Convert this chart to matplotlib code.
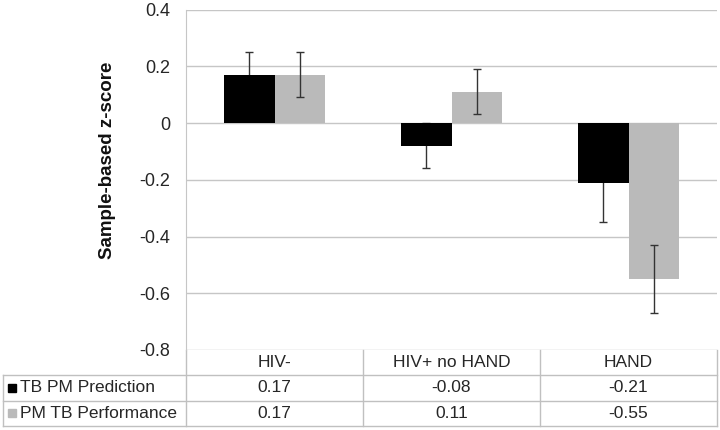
import matplotlib
matplotlib.use("Agg")
import matplotlib.pyplot as plt
from matplotlib.patches import Rectangle
from matplotlib.lines import Line2D
import numpy as np

categories = ["HIV-", "HIV+ no HAND", "HAND"]
series_names = ["TB PM Prediction", "PM TB Performance"]
prediction = [0.17, -0.08, -0.21]
performance = [0.17, 0.11, -0.55]
prediction_err = [0.08, 0.08, 0.14]
performance_err = [0.08, 0.08, 0.12]
table_pred = ["0.17", "-0.08", "-0.21"]
table_perf = ["0.17", "0.11", "-0.55"]
yticks = [0.4, 0.2, 0, -0.2, -0.4, -0.6, -0.8]
ytick_labels = ["0.4", "0.2", "0", "-0.2", "-0.4", "-0.6", "-0.8"]

plt.rcParams['font.family'] = ['Liberation Sans', 'DejaVu Sans']

W, H = 720, 430
fig = plt.figure(figsize=(W / 100, H / 100), dpi=100)
left_px, right_px, top_px, bot_px = 186, 717, 9.5, 350
ax = fig.add_axes([left_px / W, 1 - bot_px / H, (right_px - left_px) / W, (bot_px - top_px) / H])

black = "#000000"
gray = "#bababa"
grid_c = "#c6c6c6"
txt_c = "#262626"
x = np.arange(len(categories))
bw = 0.283

ax.bar(x - bw / 2, prediction, width=bw, color=black, zorder=3)
ax.bar(x + bw / 2, performance, width=bw, color=gray, zorder=3)
ax.errorbar(x - bw / 2, prediction, yerr=prediction_err, fmt='none', ecolor="#333333",
            elinewidth=1, capsize=3, capthick=1, zorder=2.5)
ax.errorbar(x + bw / 2, performance, yerr=performance_err, fmt='none', ecolor="#333333",
            elinewidth=1, capsize=3, capthick=1, zorder=4)

ax.set_xlim(-0.5, 2.5)
ax.set_ylim(-0.8, 0.4)
ax.set_yticks(yticks)
ax.set_yticklabels(ytick_labels, fontsize=13, color=txt_c)
ax.tick_params(axis='y', length=0, pad=11.5)
ax.set_xticks([])
ax.yaxis.grid(True, color=grid_c, linewidth=1, zorder=0)
for s in ["top", "right", "bottom"]:
    ax.spines[s].set_visible(False)
ax.spines["left"].set_color(grid_c)
fig.text(108 / W, 1 - 160 / H, "Sample-based z-score", rotation=90, ha='center', va='center',
         fontsize=13.5, fontweight='bold', color="#111111")

# Data table below the axes
ax_h_px = bot_px - top_px
cat_px = (right_px - left_px) / 3
row_h = 25.3 / ax_h_px
tr = ax.get_xaxis_transform()
x_left = -0.5 - (left_px - 3) / cat_px
lc = "#c0c0c0"

def hline(y, x0, x1):
    ax.add_line(Line2D([x0, x1], [y, y], transform=tr, color=lc, lw=1, clip_on=False))

def vline(xv, y0, y1):
    ax.add_line(Line2D([xv, xv], [y0, y1], transform=tr, color=lc, lw=1, clip_on=False))

y0 = 0.0
y1 = -row_h
y2 = -2 * row_h
y3 = -3 * row_h
hline(y1, x_left, 2.5)
hline(y2, x_left, 2.5)
hline(y3, x_left, 2.5)
vline(x_left, y1, y3)
for b in [-0.5, 0.5, 1.5, 2.5]:
    vline(b, y0, y3)

fs = 12.5
for xi, c in zip(x, categories):
    ax.text(xi, (y0 + y1) / 2, c, transform=tr, ha='center', va='center', fontsize=fs, color=txt_c)
for xi, t in zip(x, table_pred):
    ax.text(xi, (y1 + y2) / 2, t, transform=tr, ha='center', va='center', fontsize=fs, color=txt_c)
for xi, t in zip(x, table_perf):
    ax.text(xi, (y2 + y3) / 2, t, transform=tr, ha='center', va='center', fontsize=fs, color=txt_c)

sq_w = 8 / cat_px
sq_h = 8 / ax_h_px
for (yy_top, yy_bot), name, col in zip([(y1, y2), (y2, y3)], series_names, [black, gray]):
    yc = (yy_top + yy_bot) / 2
    xs = x_left + 5 / cat_px
    ax.add_patch(Rectangle((xs, yc - sq_h / 2), sq_w, sq_h, transform=tr, color=col, clip_on=False))
    ax.text(xs + sq_w + 4 / cat_px, yc, name, transform=tr, ha='left', va='center',
            fontsize=fs, color=txt_c)

fig.savefig("out.png", dpi=100)
